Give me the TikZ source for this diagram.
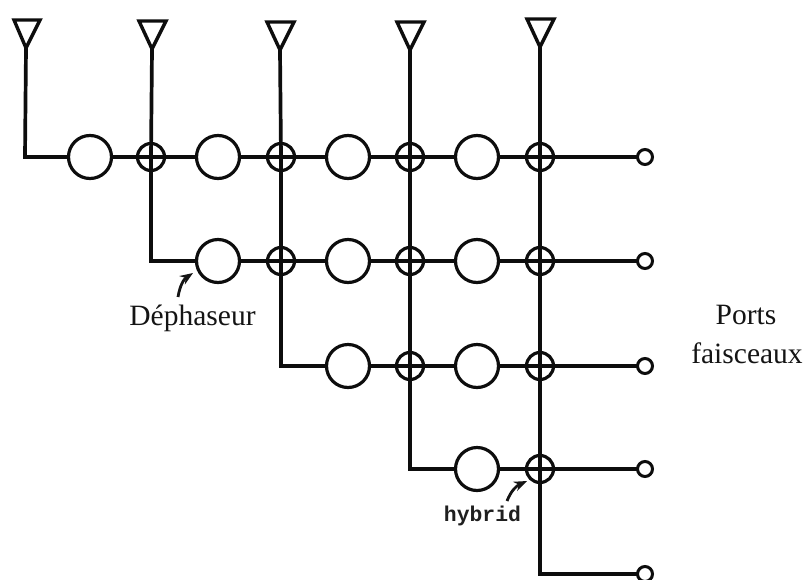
\documentclass[tikz,border=0pt]{standalone}
\usepackage{fontspec}
\setmainfont{Liberation Serif}
\setmonofont{Liberation Mono}
\usetikzlibrary{arrows.meta}
\tikzset{
  line/.style={line width=3.7pt,line join=miter,black!95},
  ps/.style={circle,draw=black!95,line width=3.2pt,fill=white,minimum size=43pt,inner sep=0pt,outer sep=0pt},
  hy/.style={circle,draw=black!95,line width=3.2pt,minimum size=27pt,inner sep=0pt,outer sep=0pt},
  port/.style={circle,draw=black!95,line width=3pt,fill=white,minimum size=15pt,inner sep=0pt,outer sep=0pt},
  ant/.style={draw=black!95,line width=3.4pt,line join=miter,fill=white},
  lab/.style={font=\fontsize{29.5}{39}\selectfont,text=black!92,inner sep=0pt},
  hyb/.style={font=\fontsize{21.4}{24}\selectfont\ttfamily\bfseries,text=black!88,inner sep=0pt},
  ptr/.style={line width=2.8pt,black!92,-{Stealth[length=13pt,width=10pt]}}
}
\begin{document}
\begin{tikzpicture}[x=1pt,y=-1pt]
\useasboundingbox (0,0) rectangle (803,579);
% antenna apexes
\coordinate (a1) at (26,48);
\coordinate (a2) at (152,49);
\coordinate (a3) at (280,50);
\coordinate (a4) at (410,50);
\coordinate (a5) at (540,47);
\coordinate (c1) at (25,157);
\coordinate (c2) at (151,261);
\coordinate (c3) at (281,366);
\coordinate (c4) at (410,469);
\coordinate (c5) at (540,574);
% phase shifters
\node[ps] (p11) at (90,157) {};
\node[ps] (p12) at (218,157) {};
\node[ps] (p13) at (348,157) {};
\node[ps] (p14) at (477,157) {};
\node[ps] (p22) at (218,261) {};
\node[ps] (p23) at (348,261) {};
\node[ps] (p24) at (477,261) {};
\node[ps] (p33) at (348,366) {};
\node[ps] (p34) at (477,366) {};
\node[ps] (p44) at (477,469) {};
% hybrids
\node[hy] (h12) at (151,157) {};
\node[hy] (h13) at (281,157) {};
\node[hy] (h14) at (410,157) {};
\node[hy] (h15) at (540,157) {};
\node[hy] (h23) at (281,261) {};
\node[hy] (h24) at (410,261) {};
\node[hy] (h25) at (540,261) {};
\node[hy] (h34) at (410,366) {};
\node[hy] (h35) at (540,366) {};
\node[hy] (h45) at (540,469) {};
% ports
\node[port] (o1) at (645,157) {};
\node[port] (o2) at (645,261) {};
\node[port] (o3) at (645,366) {};
\node[port] (o4) at (645,469) {};
\node[port] (o5) at (645,574) {};
% vertical feeds
\draw[line] (a1) -- (c1) -- (p11);
\draw[line] (a2) -- (h12.center) -- (c2) -- (p22);
\draw[line] (a3) -- (h13.center) -- (h23.center) -- (c3) -- (p33);
\draw[line] (a4) -- (h14.center) -- (h24.center) -- (h34.center) -- (c4) -- (p44);
\draw[line] (a5) -- (h15.center) -- (h25.center) -- (h35.center) -- (h45.center) -- (c5) -- (o5);
% rows
\draw[line] (p11) -- (h12.center) -- (p12);
\draw[line] (p12) -- (h13.center) -- (p13);
\draw[line] (p13) -- (h14.center) -- (p14);
\draw[line] (p14) -- (h15.center) -- (o1);
\draw[line] (p22) -- (h23.center) -- (p23);
\draw[line] (p23) -- (h24.center) -- (p24);
\draw[line] (p24) -- (h25.center) -- (o2);
\draw[line] (p33) -- (h34.center) -- (p34);
\draw[line] (p34) -- (h35.center) -- (o3);
\draw[line] (p44) -- (h45.center) -- (o4);
% antennas
\draw[ant] (14,20) -- (40,20) -- (a1) -- cycle;
\draw[ant] (139,21) -- (166,21) -- (a2) -- cycle;
\draw[ant] (267,22) -- (294,22) -- (a3) -- cycle;
\draw[ant] (397,22) -- (424,22) -- (a4) -- cycle;
\draw[ant] (527,19) -- (554,19) -- (a5) -- cycle;
% labels
\node[lab,anchor=base] (dep) at (192.5,325) {Déphaseur};
\node[lab,anchor=base] (pf1) at (746,324) {Ports};
\node[lab,anchor=base] (pf2) at (747,363) {faisceaux};
\node[hyb,anchor=base] (hlab) at (482.5,521) {hybrid};
\coordinate (t1) at (178,297);
\coordinate (t2) at (507,501);
\draw[ptr] (t1) .. controls (180,285) and (184,279) .. (193,273);
\draw[ptr] (t2) .. controls (511,491) and (516,486) .. (527,481);
\end{tikzpicture}
\end{document}
